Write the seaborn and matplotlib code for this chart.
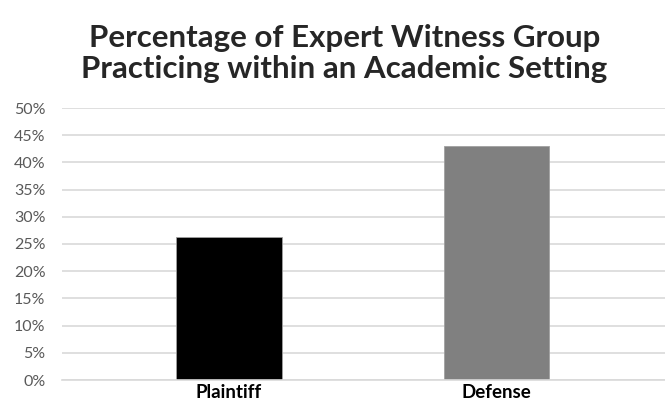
import matplotlib
matplotlib.use("Agg")
import matplotlib.pyplot as plt
import seaborn as sns
import pandas as pd
from matplotlib.ticker import PercentFormatter, MultipleLocator

# Data
groups = ["Plaintiff", "Defense"]
pct_academic = [0.263, 0.431]
bar_colors = ["#000000", "#808080"]

df = pd.DataFrame({"Group": groups, "Pct": pct_academic})

sns.set_theme(style="white")
plt.rcParams['font.family'] = ['Lato', 'DejaVu Sans']

fig = plt.figure(figsize=(6.65, 4.04), dpi=100)
ax = fig.add_axes([62 / 665, 24 / 404, 1 - 62 / 665, 272 / 404])

sns.barplot(data=df, x="Group", y="Pct", hue="Group", palette=bar_colors,
            width=0.394, legend=False, ax=ax, edgecolor="#a0a0a0", linewidth=0.6)

ax.set_ylim(0, 0.5)
ax.set_xlim(-0.624, 1.63)
ax.yaxis.set_major_locator(MultipleLocator(0.05))
ax.yaxis.set_major_formatter(PercentFormatter(1.0, decimals=0))
ax.grid(axis="y", color="#d9d9d9", linewidth=1.2)
ax.set_axisbelow(True)
for s in ["top", "right", "left"]:
    ax.spines[s].set_visible(False)
ax.spines["bottom"].set_color("#d9d9d9")
ax.spines["bottom"].set_linewidth(1.2)

ax.set_xlabel("")
ax.set_ylabel("")
ax.tick_params(axis="y", colors="#595959", labelsize=11.5, length=0, pad=12)
ax.tick_params(axis="x", colors="black", length=0, pad=3)
for lbl in ax.get_xticklabels():
    lbl.set_fontsize(13.5)
    lbl.set_fontweight("bold")

fig.text(0.518, 0.868, "Percentage of Expert Witness Group\nPracticing within an Academic Setting",
         ha="center", va="center", fontsize=22.5, fontweight="bold", linespacing=1.15)

fig.savefig("out.png", dpi=100)
